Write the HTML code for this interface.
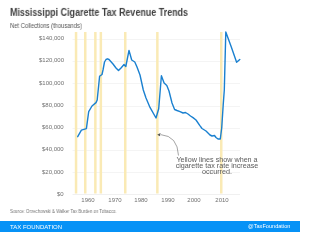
<!DOCTYPE html>
<html><head><meta charset="utf-8">
<style>
html,body{margin:0;padding:0;background:#fff;}
body{width:300px;height:232px;position:relative;overflow:hidden;font-family:"Liberation Sans",sans-serif;}
.t{position:absolute;white-space:nowrap;line-height:1;}
div{will-change:transform;}
#title{left:10.3px;top:6.7px;font-size:9.5px;font-weight:bold;color:#404040;transform-origin:0 0;transform:scale(0.94,1.08);}
#sub{left:10px;top:22.8px;font-size:6.3px;color:#555;transform-origin:0 0;transform:scaleX(0.93);}
.yl{position:absolute;right:236.3px;font-size:6px;color:#707070;line-height:1;white-space:nowrap;}
.xl{position:absolute;font-size:6px;color:#707070;line-height:1;width:30px;text-align:center;}
#src{left:10px;top:210.2px;font-size:4.8px;color:#777;transform-origin:0 0;transform:scaleX(0.9);}
#bar{position:absolute;left:0;top:221px;width:300px;height:11px;background:#0792f6;}
#tf{left:9.6px;top:223.7px;font-size:6px;color:#fff;}
#tw{left:247.8px;top:224.1px;font-size:5.6px;color:#fff;}
#note{position:absolute;left:167px;top:157px;width:100px;text-align:center;font-size:7.2px;line-height:6.2px;color:#5a5a5a;}
</style></head><body>
<div class="t" id="title">Mississippi Cigarette Tax Revenue Trends</div>
<div class="t" id="sub">Net Collections (thousands)</div>
<svg width="300" height="232" style="position:absolute;left:0;top:0" xmlns="http://www.w3.org/2000/svg">
<g stroke="#f4f4f4" stroke-width="1">
<line x1="72.5" y1="39.5" x2="240" y2="39.5"/>
<line x1="72.5" y1="61.5" x2="240" y2="61.5"/>
<line x1="72.5" y1="83.5" x2="240" y2="83.5"/>
<line x1="72.5" y1="106.5" x2="240" y2="106.5"/>
<line x1="72.5" y1="128.5" x2="240" y2="128.5"/>
<line x1="72.5" y1="150.5" x2="240" y2="150.5"/>
<line x1="72.5" y1="172.5" x2="240" y2="172.5"/>
<line x1="72.5" y1="194.5" x2="240" y2="194.5" stroke="#f0f0f0"/>
</g>
<g fill="#faeab5">
<rect x="74.8" y="32" width="2.5" height="161.5"/>
<rect x="84" y="32" width="2.5" height="161.5"/>
<rect x="94.1" y="32" width="2.5" height="161.5"/>
<rect x="99.6" y="32" width="2.5" height="161.5"/>
<rect x="124" y="32" width="2.5" height="161.5"/>
<rect x="156.1" y="32" width="2.5" height="161.5"/>
<rect x="220" y="32" width="2.5" height="161.5"/>
</g>
<polyline fill="none" stroke="#1a80d0" stroke-width="1.4" stroke-linejoin="round" stroke-linecap="round"
points="77.7,136.7 81.4,130.1 86.4,128.7 88.7,111.7 92,106 96,102.6 97.2,100 99.6,76.3 102,74.5 103,70 104.5,62 106,59.5 107.5,58.8 109,59.5 113,64 116,68 118.5,70.6 121,68 124,64.5 125.8,66.5 129,50.4 131.7,60 134.8,62 137,67 140,75 143.3,90 146,98 150,107.4 156,118 158.7,108.7 161.4,75.7 164.1,83 166.8,85.5 169,91 172,103 174.6,109.5 177,110.5 180,111.6 183,113 185.5,112.5 188,114 190.5,116 193,117.6 196,120 199.7,125.4 202,128.5 206,131 208,133 210,135 212,136 214.5,135.5 216,137.5 218,139 220.3,139 221.7,128 223.2,105 224.3,90 225.8,32 231.3,47 236.6,62.3 239.8,59.4"/>
<path d="M161,134.7 Q177.5,136 178.5,155.5" fill="none" stroke="#666" stroke-width="0.6"/>
<path d="M157.2,134.7 L160.5,133 L160,136.3 Z" fill="#555"/>
</svg>
<div class="yl" style="top:35.05px">$140,000</div>
<div class="yl" style="top:57.3px">$120,000</div>
<div class="yl" style="top:79.55px">$100,000</div>
<div class="yl" style="top:101.8px">$80,000</div>
<div class="yl" style="top:124.05px">$60,000</div>
<div class="yl" style="top:146.3px">$40,000</div>
<div class="yl" style="top:168.55px">$20,000</div>
<div class="yl" style="top:190.8px">$0</div>
<div class="xl" style="left:72.7px;top:196.8px">1960</div>
<div class="xl" style="left:99.8px;top:196.8px">1970</div>
<div class="xl" style="left:126px;top:196.8px">1980</div>
<div class="xl" style="left:153.2px;top:196.8px">1990</div>
<div class="xl" style="left:178.9px;top:196.8px">2000</div>
<div class="xl" style="left:206.8px;top:196.8px">2010</div>
<div id="note">Yellow lines show when a cigarette tax rate increase occurred.</div>
<div class="t" id="src">Source: Orzechowski &amp; Walker Tax Burden on Tobacco.</div>
<div id="bar"></div>
<div class="t" id="tf">TAX FOUNDATION</div>
<div class="t" id="tw">@TaxFoundation</div>
</body></html>
